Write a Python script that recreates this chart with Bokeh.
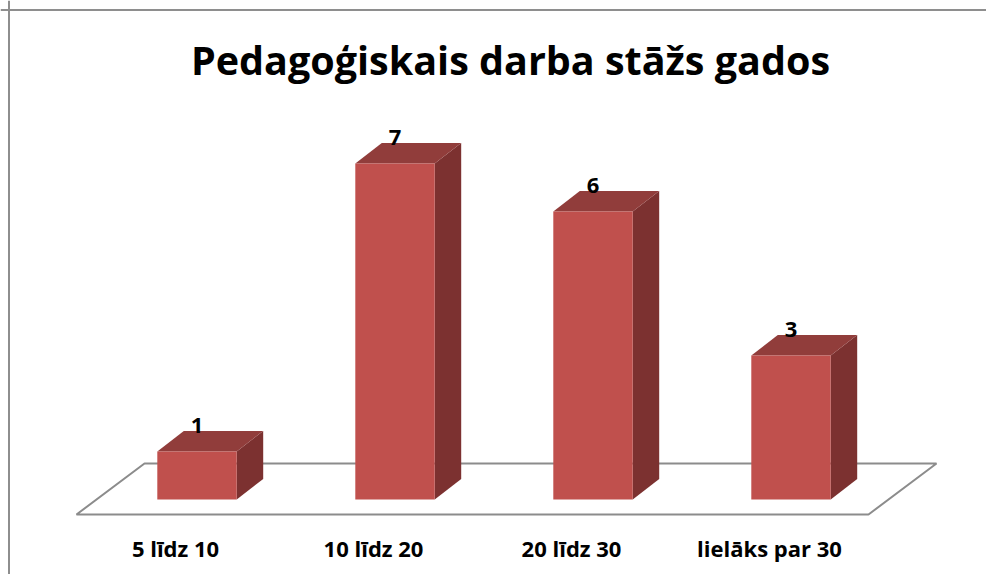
from bokeh.plotting import figure
from bokeh.models import Range1d, Span, ColumnDataSource
from bokeh.core.properties import value
from bokeh.embed import file_html
from bokeh.resources import INLINE

# ---- data ----
title_text = "Pedagoģiskais darba stāžs gados"
categories = ["5 līdz 10", "10 līdz 20", "20 līdz 30", "lielāks par 30"]
counts = [1, 7, 6, 3]

# ---- layout constants (data units: x = category slot, y = count) ----
W, H = 986, 574
PX_X = 198.0   # pixels per category slot
PX_Y = 48.0    # pixels per unit count
X0_PAGE = 196.5  # x of first bar centre
Y0_PAGE = 499.0  # y of zero

def xd(px):
    return (px - X0_PAGE) / PX_X

def yd(py):
    return (Y0_PAGE - py) / PX_Y

BAR_HALF = 39.7 / PX_X
DEPTH_X = 26.5 / PX_X
DEPTH_Y = 20.5 / PX_Y
LABEL_SHIFT = -21.5 / PX_X

FLOOR_X0 = xd(76)
FLOOR_X1 = xd(868)
FLOOR_YF = yd(514)
FLOOR_DX = 68 / PX_X
FLOOR_DY = 51 / PX_Y

FRONT = "#C0504D"
TOP = "#913D3B"
SIDE = "#7C3130"
GRID_GRAY = "#8C8C8C"
FONT = "Open Sans"

p = figure(width=W, height=H, output_backend="svg", toolbar_location=None,
           x_range=Range1d(xd(0), xd(W)), y_range=Range1d(yd(H), yd(0)),
           x_axis_location=None, y_axis_location=None, min_border=0)
p.grid.visible = False
p.outline_line_color = None
p.background_fill_color = "white"
p.border_fill_color = "white"

# outer chart border (top and left visible)
p.add_layout(Span(location=yd(9.5), dimension="width", line_color="#8E8E8E", line_width=2))
p.add_layout(Span(location=xd(8.5), dimension="height", line_color="#8E8E8E", line_width=2))

# floor
p.patch([FLOOR_X0, FLOOR_X1, FLOOR_X1 + FLOOR_DX, FLOOR_X0 + FLOOR_DX],
        [FLOOR_YF, FLOOR_YF, FLOOR_YF + FLOOR_DY, FLOOR_YF + FLOOR_DY],
        fill_color="white", line_color=GRID_GRAY, line_width=2)

# bars
xs = list(range(len(counts)))
front_x, front_y, top_x, top_y, side_x, side_y = [], [], [], [], [], []
for i, v in zip(xs, counts):
    xl, xr = i - BAR_HALF, i + BAR_HALF
    front_x.append([xl, xr, xr, xl]); front_y.append([0, 0, v, v])
    top_x.append([xl, xr, xr + DEPTH_X, xl + DEPTH_X]); top_y.append([v, v, v + DEPTH_Y, v + DEPTH_Y])
    side_x.append([xr, xr + DEPTH_X, xr + DEPTH_X, xr]); side_y.append([0, DEPTH_Y, v + DEPTH_Y, v])

p.patches(side_x, side_y, fill_color=SIDE, line_color=None)
p.patches(top_x, top_y, fill_color=TOP, line_color=None)
p.patches(front_x, front_y, fill_color=FRONT, line_color=None)

# value labels
vsrc = ColumnDataSource(dict(x=xs, y=[v + DEPTH_Y + 6 / PX_Y for v in counts], t=[str(v) for v in counts]))
p.text(x="x", y="y", text="t", source=vsrc, text_font=value(FONT), text_font_style="bold",
       text_font_size="22px", text_align="center", text_baseline="alphabetic", text_color="black")

# category labels
csrc = ColumnDataSource(dict(x=[i + LABEL_SHIFT for i in xs], y=[yd(547.5)] * len(xs), t=categories))
p.text(x="x", y="y", text="t", source=csrc, text_font=value(FONT), text_font_style="bold",
       text_font_size="22px", text_align="center", text_baseline="alphabetic", text_color="black")

# title
p.text(x=[xd(510)], y=[yd(59)], text=[title_text], text_font=value(FONT), text_font_style="bold",
       text_font_size="39.5px", text_align="center", text_baseline="alphabetic", text_color="black")

open("out.html", "w").write(file_html(p, INLINE))
